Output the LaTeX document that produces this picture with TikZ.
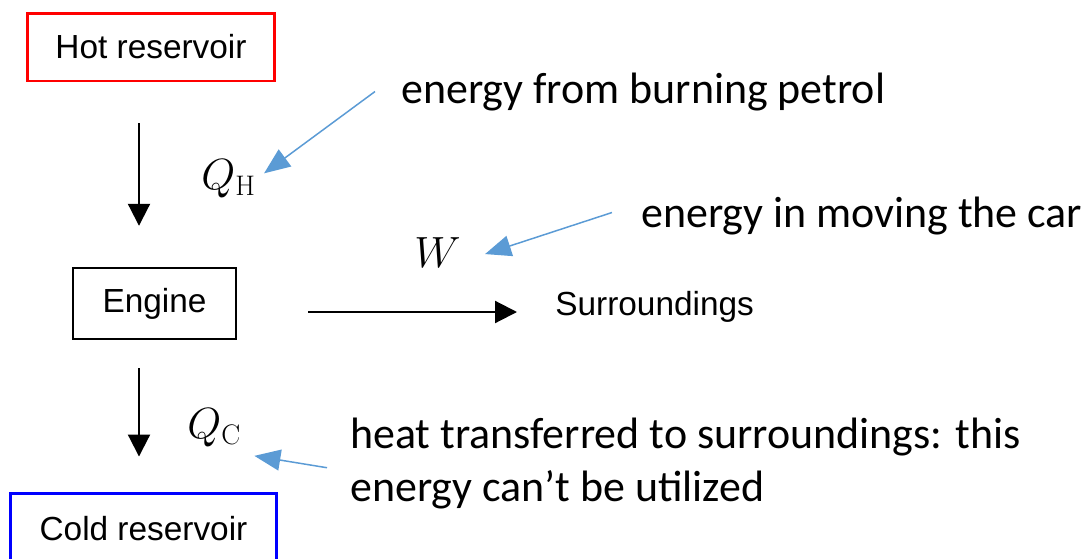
\documentclass[tikz,border=0pt]{standalone}
\usepackage{fontspec}
\newfontfamily\arialfont{Liberation Sans}
\newfontfamily\calibrifont{Carlito}
\usepackage{xcolor}
\usetikzlibrary{arrows.meta,positioning}

\definecolor{notearrow}{RGB}{91,155,213}

\tikzset{
  resbox/.style={draw, inner sep=0pt, font=\arialfont\fontsize{19}{22}\selectfont},
  note/.style={inner sep=0pt, font=\calibrifont\fontsize{25}{30}\selectfont},
  sym/.style={inner sep=0pt, font=\fontsize{23}{27}\selectfont},
  flow/.style={line width=1.2pt, -{Triangle[length=0.44cm,width=0.44cm]}},
  pointer/.style={line width=0.85pt, notearrow, -{Triangle[length=0.52cm,width=0.42cm]}}
}

\begin{document}
\begin{tikzpicture}[x=0.02cm, y=-0.02cm]
  \clip (0,0) rectangle (1092,558);

  % reservoirs and engine
  \node[resbox, draw=red, line width=1.7pt, minimum width=4.96cm, minimum height=1.36cm] (hot) at (151,47) {Hot reservoir};
  \node[resbox, line width=1.4pt, minimum width=3.26cm, minimum height=1.42cm] (engine) at (154.5,303.5) {Engine};
  \node[resbox, draw=blue, line width=1.7pt, minimum width=5.34cm, minimum height=1.44cm] (cold) at (143.5,529) {Cold reservoir};
  \node[anchor=base west, inner sep=0pt, font=\arialfont\fontsize{19}{22}\selectfont] (surr) at (555,315) {Surroundings};

  % energy flows
  \coordinate (lane) at (139,0);
  \draw[flow, shorten <=0.82cm, shorten >=0.82cm] (hot.south -| lane) -- (engine.north -| lane);
  \draw[flow, shorten <=0.56cm, shorten >=0.7cm] (engine.south -| lane) -- (cold.north -| lane);
  \draw[flow, shorten <=1.42cm, shorten >=0.76cm] ([yshift=-0.17cm]engine.east) -- ([yshift=-0.17cm]engine.east -| surr.west);

  % symbols
  \node[sym, anchor=base west] (qh) at (201,189) {$Q_{\mathrm{H}}$};
  \node[sym, anchor=base west] (w) at (414,267) {$W$};
  \node[sym, anchor=base west] (qc) at (187,438) {$Q_{\mathrm{C}}$};

  % notes
  \node[note, anchor=base west] (petrol) at (401,103) {energy from burning petrol};
  \node[note, anchor=base west] (car) at (641,227) {energy in moving the car};
  \node[note, anchor=north west, align=left] (waste) at (350,418) {heat transferred to surroundings: this\\energy can’t be utilized};

  \draw[pointer] ([shift={(-26,0)}]petrol.west) -- ([shift={(8,-5)}]qh.east);
  \draw[pointer] ([shift={(-29,-3)}]car.west) -- ([shift={(24,2)}]w.east);
  \draw[pointer] ([shift={(-23,4)}]waste.west) -- ([shift={(13,9)}]qc.south east);
\end{tikzpicture}
\end{document}
